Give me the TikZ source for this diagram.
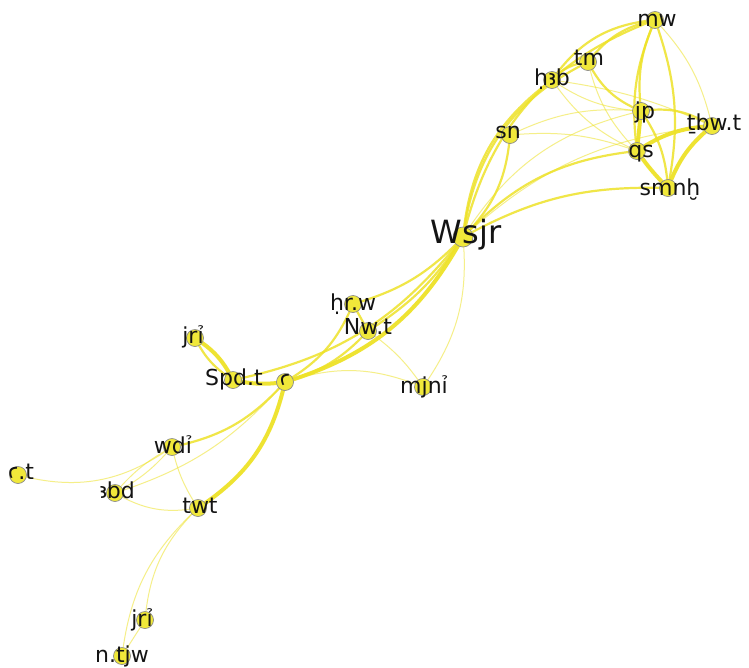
\documentclass[tikz,border=0pt]{standalone}
\usepackage{fontspec}
\setmainfont{DejaVu Sans}
\pgfdeclarelayer{edges}
\pgfsetlayers{edges,main}
\definecolor{vfill}{RGB}{240,232,58}
\definecolor{eyel}{RGB}{238,226,40}
\tikzset{
  vert/.style={circle, fill=vfill, draw=black!45, line width=0.7pt, minimum size=17pt, inner sep=0pt},
  big/.style={minimum size=20pt},
  lab/.style={anchor=base, inner sep=0pt, text=black!92, font=\fontsize{22}{22}\selectfont},
  biglab/.style={font=\fontsize{32}{32}\selectfont},
  lnk/.style={draw=eyel, line cap=round},
  thk/.style={lnk, line width=4pt, draw opacity=0.95},
  mid/.style={lnk, line width=2.2pt, draw opacity=0.85},
  thn/.style={lnk, line width=1pt, draw opacity=0.55},
}
\begin{document}
\begin{tikzpicture}[x=1pt,y=-1pt]
\useasboundingbox (0,0) rectangle (749,667);

% vertices
\node[vert] (mw)    at (655,20)  {};
\node[vert] (tm)    at (588,62)  {};
\node[vert] (hab)   at (552,80)  {};
\node[vert] (sn)    at (510,135) {};
\node[vert] (jp)    at (641,111) {};
\node[vert] (tbwt)  at (712,126) {};
\node[vert] (qs)    at (637,151) {};
\node[vert] (smnh)  at (668,188) {};
\node[vert,big] (wsjr) at (463,237) {};
\node[vert] (hrw)   at (353,304) {};
\node[vert] (nwt)   at (368,331) {};
\node[vert] (mjni)  at (423,387) {};
\node[vert] (jri)   at (195,338) {};
\node[vert] (spdt)  at (233,380) {};
\node[vert] (ayin)  at (285,382) {};
\node[vert] (wdi)   at (172,447) {};
\node[vert] (ayint) at (18,475)  {};
\node[vert] (abd)   at (115,493) {};
\node[vert] (twt)   at (198,508) {};
\node[vert] (jrib)  at (145,620) {};
\node[vert] (ntjw)  at (122,656) {};

% labels
\node[lab] (lmw)    at (657,26)  {mw};
\node[lab] (ltm)    at (589,65)  {tm};
\node[lab] (lhab)   at (552,85)  {ḥꜣb};
\node[lab] (lsn)    at (508,138) {sn};
\node[lab] (ljp)    at (645,118) {jp};
\node[lab] (ltbwt)  at (714,130) {ṯbw.t};
\node[lab] (lqs)    at (641,157) {qs};
\node[lab] (lsmnh)  at (670,195) {smnḫ};
\node[lab,biglab] (lwsjr) at (466,243) {Wsjr};
\node[lab] (lhrw)   at (353,310) {ḥr.w};
\node[lab] (lnwt)   at (368,334) {Nw.t};
\node[lab] (lmjni)  at (424,393) {mjnỉ};
\node[lab] (ljri)   at (193,343) {jrỉ};
\node[lab] (lspdt)  at (234,385) {Spd.t};
\node[lab] (layin)  at (285,386) {ꜥ};
\node[lab] (lwdi)   at (173,453) {wdỉ};
\node[lab] (layint) at (21,479)  {ꜥ.t};
\node[lab] (labd)   at (117,498) {ꜣbd};
\node[lab] (ltwt)   at (200,513) {twt};
\node[lab] (ljrib)  at (142,626) {jrỉ};
\node[lab] (lntjw)  at (122,662) {n.tjw};

\begin{pgfonlayer}{edges}
\fill[white] (0,0) rectangle (749,667);
% upper cluster
\draw[mid] (wsjr.center) to[bend left=28] (mw.center);
\draw[mid] (wsjr.center) to[bend left=28] (tm.center);
\draw[mid] (wsjr.center) to[bend left=24] (hab.center);
\draw[mid] (wsjr.center) to[bend right=20] (sn.center);
\draw[thn] (wsjr.center) to[bend left=22] (jp.center);
\draw[mid] (wsjr.center) to[bend left=20] (qs.center);
\draw[mid] (wsjr.center) to[bend left=15] (smnh.center);
\draw[thn] (wsjr.center) to[bend left=18] (tbwt.center);
\draw[thn] (sn.center) to[bend left=15] (jp.center);
\draw[thn] (sn.center) to[bend left=12] (qs.center);
\draw[mid] (hab.center) to[bend left=20] (tm.center);
\draw[mid] (hab.center) to[bend left=25] (mw.center);
\draw[thn] (hab.center) to[bend right=15] (jp.center);
\draw[thn] (hab.center) to[bend right=15] (qs.center);
\draw[thn] (hab.center) to[bend left=8] (tbwt.center);
\draw[mid] (tm.center) to[bend left=20] (mw.center);
\draw[mid] (tm.center) to[bend right=20] (jp.center);
\draw[thn] (tm.center) to[bend right=15] (qs.center);
\draw[mid] (mw.center) to[bend right=15] (jp.center);
\draw[mid] (mw.center) to[bend right=15] (qs.center);
\draw[mid] (mw.center) to[bend left=15] (smnh.center);
\draw[thn] (mw.center) to[bend left=15] (tbwt.center);
\draw[thk] (jp.center) -- (qs.center);
\draw[mid] (jp.center) to[bend left=20] (tbwt.center);
\draw[mid] (jp.center) to[bend left=15] (smnh.center);
\draw[thk] (qs.center) to[bend left=15] (tbwt.center);
\draw[thk] (qs.center) to[bend right=5] (smnh.center);
\draw[thk] (tbwt.center) to[bend right=15] (smnh.center);

% middle
\draw[mid] (wsjr.center) to[bend left=15] (hrw.center);
\draw[mid] (wsjr.center) to[bend left=12] (nwt.center);
\draw[thk] (wsjr.center) to[bend left=22] (ayin.center);
\draw[mid] (wsjr.center) to[bend left=20] (spdt.center);
\draw[thn] (wsjr.center) to[bend left=20] (mjni.center);
\draw[mid] (ayin.center) to[bend right=18] (hrw.center);
\draw[mid] (ayin.center) to[bend right=15] (nwt.center);
\draw[mid] (hrw.center) -- (nwt.center);
\draw[thn] (ayin.center) to[bend left=20] (mjni.center);
\draw[thn] (nwt.center) to[bend left=10] (mjni.center);

% lower left
\draw[thk] (jri.center) to[bend left=15] (spdt.center);
\draw[mid] (jri.center) to[bend right=15] (spdt.center);
\draw[thk] (spdt.center) to[bend right=10] (ayin.center);
\draw[mid] (ayin.center) to[bend left=18] (wdi.center);
\draw[thk] (ayin.center) to[bend left=22] (twt.center);
\draw[thn] (ayin.center) to[bend left=15] (abd.center);
\draw[thn] (wdi.center) to[bend left=10] (abd.center);
\draw[thn] (wdi.center) to[bend right=10] (abd.center);
\draw[thn] (ayint.center) to[bend right=25] (wdi.center);
\draw[thn] (wdi.center) to[bend right=10] (twt.center);
\draw[thn] (abd.center) to[bend right=20] (twt.center);
\draw[thn] (twt.center) to[bend right=20] (jrib.center);
\draw[thn] (twt.center) to[bend right=20] (ntjw.center);
\draw[thn] (jrib.center) -- (ntjw.center);
\end{pgfonlayer}
\end{tikzpicture}
\end{document}
